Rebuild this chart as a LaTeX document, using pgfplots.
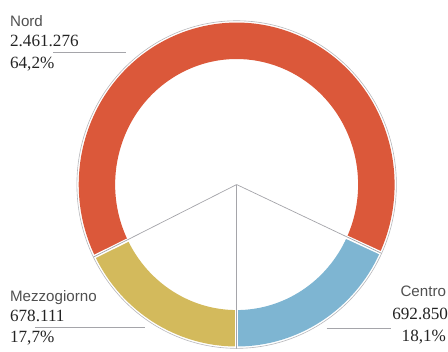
\documentclass[border=0pt]{standalone}
\usepackage{pgfplots}
\pgfplotsset{compat=1.18}
\usepackage{pgfplotstable}
\usetikzlibrary{calc}
\usepackage{fontspec}
\setmainfont{Liberation Serif}
\newfontfamily\lab{Liberation Sans}
\definecolor{nord}{RGB}{219,88,58}
\definecolor{centro}{RGB}{126,181,210}
\definecolor{mezzo}{RGB}{211,186,92}
\definecolor{namegray}{RGB}{80,80,80}
\definecolor{numgray}{RGB}{35,35,35}
\definecolor{rule}{RGB}{165,165,170}

\pgfplotstableread{
name value pct
Nord 2461276 64.2
Centro 692850 18.1
Mezzogiorno 678111 17.7
}\datatable

\begin{document}
\pgfplotstablegetelem{0}{pct}\of\datatable \let\pN\pgfplotsretval
\pgfplotstablegetelem{1}{pct}\of\datatable \let\pC\pgfplotsretval
\pgfplotstablegetelem{2}{pct}\of\datatable \let\pM\pgfplotsretval
\pgfmathsetmacro\aA{-90}
\pgfmathsetmacro\aB{\aA+3.6*\pC}
\pgfmathsetmacro\aC{\aB+3.6*\pN}
\pgfmathsetmacro\aD{\aC+3.6*\pM}
\begin{tikzpicture}
\begin{axis}[
  x=1bp, y=1bp, xmin=0, xmax=448, ymin=0, ymax=345,
  hide axis, clip=false, scale only axis]
  % ring segments
  \fill[centro] (axis cs:236,165) ++(\aA:156bp and 160bp) arc[start angle=\aA, end angle=\aB, x radius=156bp, y radius=160bp] -- ($(axis cs:236,165)+(\aB:120bp and 124bp)$) arc[start angle=\aB, end angle=\aA, x radius=120bp, y radius=124bp] -- cycle;
  \fill[nord] (axis cs:236,165) ++(\aB:156bp and 160bp) arc[start angle=\aB, end angle=\aC, x radius=156bp, y radius=160bp] -- ($(axis cs:236,165)+(\aC:120bp and 124bp)$) arc[start angle=\aC, end angle=\aB, x radius=120bp, y radius=124bp] -- cycle;
  \fill[mezzo] (axis cs:236,165) ++(\aC:156bp and 160bp) arc[start angle=\aC, end angle=\aD, x radius=156bp, y radius=160bp] -- ($(axis cs:236,165)+(\aD:120bp and 124bp)$) arc[start angle=\aD, end angle=\aC, x radius=120bp, y radius=124bp] -- cycle;
  % gaps
  \draw[white, line width=3.5bp] ($(axis cs:236,165)+(\aA:116bp and 120bp)$) -- ($(axis cs:236,165)+(\aA:159bp and 163bp)$);
  \draw[white, line width=3.5bp] ($(axis cs:236,165)+(\aB:116bp and 120bp)$) -- ($(axis cs:236,165)+(\aB:159bp and 163bp)$);
  \draw[white, line width=3.5bp] ($(axis cs:236,165)+(\aC:116bp and 120bp)$) -- ($(axis cs:236,165)+(\aC:159bp and 163bp)$);
  % rays
  \draw[rule, line width=0.7bp] (axis cs:236,165) -- ++(\aA:158bp and 162bp);
  \draw[rule, line width=0.7bp] (axis cs:236,165) -- ++(\aB:158bp and 162bp);
  \draw[rule, line width=0.7bp] (axis cs:236,165) -- ++(\aC:158bp and 162bp);
  % outer outline
  \draw[rule!80, line width=0.6bp] (axis cs:236,165) ellipse[x radius=157.8bp, y radius=161.8bp];
  % leader lines
  \draw[rule, line width=0.7bp] (axis cs:55,296) -- (axis cs:127,296);
  \draw[rule, line width=0.7bp] (axis cs:37,24) -- (axis cs:145,24);
  \draw[rule, line width=0.7bp] (axis cs:325,23) -- (axis cs:388,23);
  % labels
  \node[anchor=base west, inner sep=0pt, text=namegray, font=\lab\fontsize{15}{18}\selectfont] at (axis cs:12,321) {Nord};
  \node[anchor=base west, inner sep=0pt, text=numgray, font=\fontsize{17}{20}\selectfont] at (axis cs:12,301.5) {2.461.276};
  \node[anchor=base west, inner sep=0pt, text=numgray, font=\fontsize{17}{20}\selectfont] at (axis cs:12,280) {64,2\%};
  \node[anchor=base west, inner sep=0pt, text=namegray, font=\lab\fontsize{15}{18}\selectfont] at (axis cs:12,49) {Mezzogiorno};
  \node[anchor=base west, inner sep=0pt, text=numgray, font=\fontsize{17}{20}\selectfont] at (axis cs:12,30) {678.111};
  \node[anchor=base west, inner sep=0pt, text=numgray, font=\fontsize{17}{20}\selectfont] at (axis cs:12,9) {17,7\%};
  \node[anchor=base east, inner sep=0pt, text=namegray, font=\lab\fontsize{15}{18}\selectfont] at (axis cs:443,54) {Centro};
  \node[anchor=base east, inner sep=0pt, text=numgray, font=\fontsize{17}{20}\selectfont] at (axis cs:445,32) {692.850};
  \node[anchor=base east, inner sep=0pt, text=numgray, font=\fontsize{17}{20}\selectfont] at (axis cs:443,10) {18,1\%};
\end{axis}
\end{tikzpicture}
\end{document}
